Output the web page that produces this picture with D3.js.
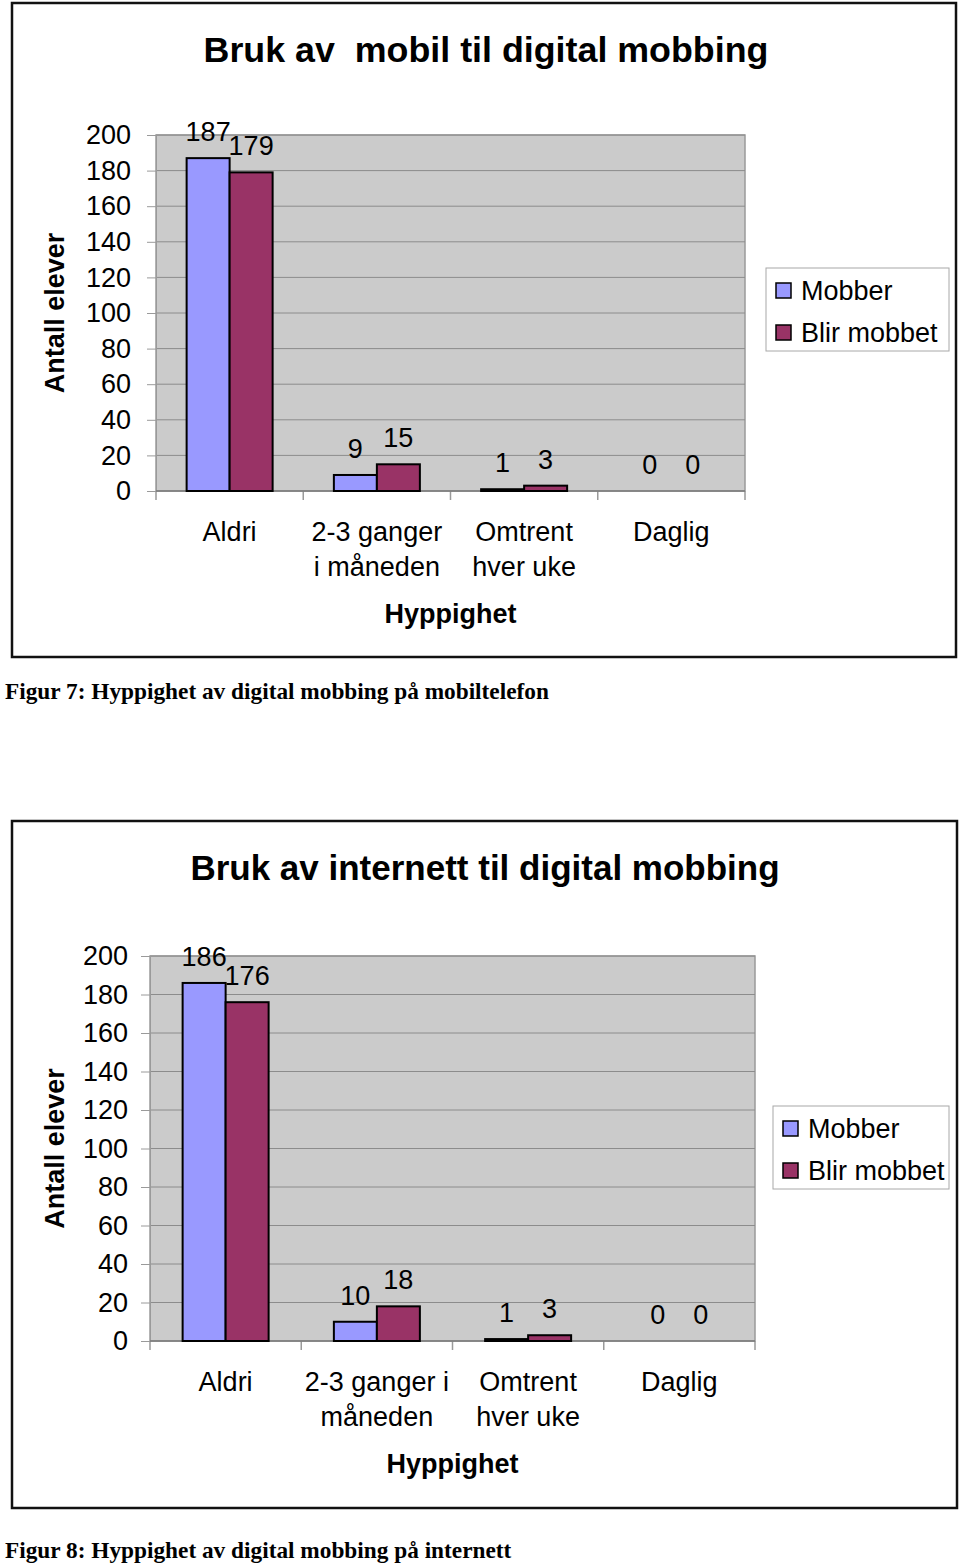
<!DOCTYPE html>
<html>
<head>
<meta charset="utf-8">
<script src="https://cdn.jsdelivr.net/npm/d3@7"></script>
<style>
  html, body { margin: 0; padding: 0; background: #fff; }
  svg { display: block; }
  text { font-family: "Liberation Sans", Arial, sans-serif; fill: #000; }
  text.caption { font-family: "Liberation Serif", "Times New Roman", serif; }
</style>
</head>
<body>
<svg id="chart" width="960" height="1563"></svg>
<script>
// ---------- DATA ----------
const seriesNames = ["Mobber", "Blir mobbet"];
const seriesColors = ["#9999FF", "#993366"];

const title1 = "Bruk av  mobil til digital mobbing";
const categories1 = [["Aldri"], ["2-3 ganger", "i måneden"], ["Omtrent", "hver uke"], ["Daglig"]];
const mobber1 = [187, 9, 1, 0];
const blirMobbet1 = [179, 15, 3, 0];
const caption1 = "Figur 7: Hyppighet av digital mobbing på mobiltelefon";

const title2 = "Bruk av internett til digital mobbing";
const categories2 = [["Aldri"], ["2-3 ganger i", "måneden"], ["Omtrent", "hver uke"], ["Daglig"]];
const mobber2 = [186, 10, 1, 0];
const blirMobbet2 = [176, 18, 3, 0];
const caption2 = "Figur 8: Hyppighet av digital mobbing på internett";

const yTicks = [0, 20, 40, 60, 80, 100, 120, 140, 160, 180, 200];
const yTitle = "Antall elever";
const xTitle = "Hyppighet";

// ---------- DRAW ----------
const svg = d3.select("#chart");
const FS = 27;

function drawChart(cfg) {
  const g = svg.append("g");
  g.append("rect")
    .attr("x", cfg.frame[0]).attr("y", cfg.frame[1])
    .attr("width", cfg.frame[2] - cfg.frame[0]).attr("height", cfg.frame[3] - cfg.frame[1])
    .attr("fill", "#fff").attr("stroke", "#111").attr("stroke-width", 2.5);

  g.append("text")
    .attr("x", cfg.titleX).attr("y", cfg.titleY)
    .attr("text-anchor", "middle")
    .style("white-space", "pre")
    .attr("font-size", cfg.titleSize).attr("font-weight", "bold")
    .text(cfg.title);

  const x0 = d3.scaleBand().domain(d3.range(cfg.cats.length)).range([cfg.left, cfg.right]).padding(0);
  const bw = cfg.barW;
  const x1 = d3.scaleBand().domain([0, 1]).range([(x0.bandwidth() - 2 * bw) / 2, (x0.bandwidth() + 2 * bw) / 2]).padding(0);
  const y = d3.scaleLinear().domain([0, 200]).range([cfg.bottom, cfg.top]);

  g.append("rect")
    .attr("x", cfg.left).attr("y", y(200))
    .attr("width", cfg.right - cfg.left).attr("height", y(0) - y(200))
    .attr("fill", "#cbcbcb").attr("stroke", "#9a9a9a").attr("stroke-width", 1.5);

  g.selectAll(".grid").data(yTicks.filter(t => t > 0)).enter().append("line")
    .attr("x1", cfg.left).attr("x2", cfg.right)
    .attr("y1", d => y(d)).attr("y2", d => y(d))
    .attr("stroke", "#8c8c8c").attr("stroke-width", 1);

  const yAxis = d3.axisLeft(y).tickValues(yTicks).tickSize(9).tickPadding(8);
  const ya = g.append("g").attr("transform", `translate(${cfg.left},0)`).call(yAxis);
  ya.select(".domain").attr("stroke", "#9a9a9a");
  ya.selectAll(".tick line").attr("stroke", "#9a9a9a");
  ya.selectAll(".tick text").attr("font-size", FS).attr("fill", "#000")
    .attr("x", cfg.tickLabelRight - cfg.left);

  const bounds = d3.range(cfg.cats.length + 1).map(i => i === cfg.cats.length ? cfg.right : x0(i));
  g.selectAll(".xt").data(bounds).enter().append("line")
    .attr("x1", d => d).attr("x2", d => d)
    .attr("y1", y(0)).attr("y2", y(0) + 9)
    .attr("stroke", "#9a9a9a").attr("stroke-width", 1.5);
  g.append("line").attr("x1", cfg.left).attr("x2", cfg.right).attr("y1", y(0)).attr("y2", y(0))
    .attr("stroke", "#7a7a7a").attr("stroke-width", 1.5);

  const data = cfg.cats.map((c, i) => ({ i, vals: [cfg.s1[i], cfg.s2[i]] }));
  const grp = g.selectAll(".cat").data(data).enter().append("g")
    .attr("transform", d => `translate(${x0(d.i)},0)`);
  grp.selectAll("rect").data(d => d.vals.map((v, k) => ({ v, k }))).enter().append("rect")
    .attr("x", d => x1(d.k)).attr("width", x1.bandwidth())
    .attr("y", d => y(d.v)).attr("height", d => y(0) - y(d.v))
    .attr("fill", d => seriesColors[d.k]).attr("stroke", "#000").attr("stroke-width", 2)
    .filter(d => d.v === 0).remove();
  grp.selectAll("text").data(d => d.vals.map((v, k) => ({ v, k }))).enter().append("text")
    .attr("x", d => x1(d.k) + x1.bandwidth() / 2)
    .attr("y", d => y(d.v) - 17)
    .attr("text-anchor", "middle").attr("font-size", FS)
    .text(d => d.v);

  g.selectAll(".cl").data(cfg.cats).enter().append("text")
    .attr("x", (d, i) => x0(i) + x0.bandwidth() / 2)
    .attr("y", y(0) + cfg.catDy)
    .attr("text-anchor", "middle").attr("font-size", FS)
    .each(function (lines) {
      const t = d3.select(this);
      lines.forEach((ln, j) => {
        t.append("tspan").attr("x", t.attr("x")).attr("dy", j === 0 ? 0 : 35).text(ln);
      });
    });

  g.append("text").attr("x", (cfg.left + cfg.right) / 2).attr("y", y(0) + 132)
    .attr("text-anchor", "middle").attr("font-size", 27).attr("font-weight", "bold").text(xTitle);
  g.append("text")
    .attr("transform", `translate(${cfg.yTitleX},${(y(0) + y(200)) / 2}) rotate(-90)`)
    .attr("text-anchor", "middle").attr("font-size", 27).attr("font-weight", "bold").text(yTitle);

  const lg = g.append("g").attr("transform", `translate(${cfg.legend[0]},${cfg.legend[1]})`);
  lg.append("rect").attr("width", cfg.legend[2]).attr("height", 83)
    .attr("fill", "#fff").attr("stroke", "#a8a8a8").attr("stroke-width", 1);
  seriesNames.forEach((name, k) => {
    lg.append("rect").attr("x", 10).attr("y", 15 + k * 42).attr("width", 15).attr("height", 15)
      .attr("fill", seriesColors[k]).attr("stroke", "#000").attr("stroke-width", 1.5);
    lg.append("text").attr("x", 35).attr("y", 32 + k * 42).attr("font-size", FS).text(name);
  });

  svg.append("text").attr("class", "caption").attr("x", 5).attr("y", cfg.captionY)
    .attr("font-size", 23.3).attr("font-weight", "bold").text(cfg.caption);
}

drawChart({
  frame: [12, 3, 956, 657], title: title1, titleX: 486, titleY: 62, titleSize: 35.8,
  cats: categories1, s1: mobber1, s2: blirMobbet1,
  left: 156, right: 745, top: 135, bottom: 491, barW: 43,
  tickLabelRight: 131, catDy: 50, yTitleX: 64,
  legend: [766, 268, 183], caption: caption1, captionY: 699
});

drawChart({
  frame: [12, 821, 957, 1508], title: title2, titleX: 485, titleY: 880, titleSize: 35,
  cats: categories2, s1: mobber2, s2: blirMobbet2,
  left: 150, right: 755, top: 956, bottom: 1341, barW: 43,
  tickLabelRight: 128, catDy: 50, yTitleX: 64,
  legend: [773, 1106, 176], caption: caption2, captionY: 1558
});
</script>
</body>
</html>
